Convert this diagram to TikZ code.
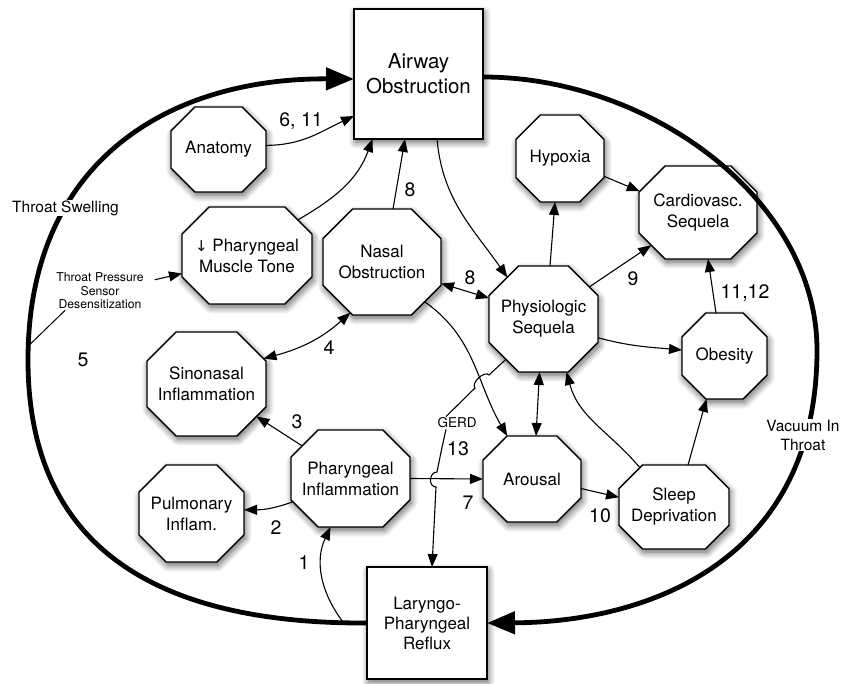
\documentclass[tikz,border=0pt]{standalone}
\usepackage{fontspec}
\setmainfont{TeX Gyre Heros}
\newfontfamily\dejavu{DejaVu Sans}
\usetikzlibrary{arrows.meta,shadows.blur,calc}
\makeatletter
\pgfdeclareshape{octbox}{%
  \inheritsavedanchors[from=rectangle]%
  \inheritanchor[from=rectangle]{center}%
  \inheritanchor[from=rectangle]{north}%
  \inheritanchor[from=rectangle]{south}%
  \inheritanchor[from=rectangle]{east}%
  \inheritanchor[from=rectangle]{west}%
  \inheritanchor[from=rectangle]{text}%
  \inheritanchor[from=rectangle]{mid}%
  \inheritanchor[from=rectangle]{base}%
  \backgroundpath{%
    \southwest \edef\oct@xa{\the\pgf@x}\edef\oct@ya{\the\pgf@y}%
    \northeast \edef\oct@xb{\the\pgf@x}\edef\oct@yb{\the\pgf@y}%
    \pgfutil@tempdima=\oct@xb\relax\advance\pgfutil@tempdima by-\oct@xa\relax
    \pgfutil@tempdimb=\oct@yb\relax\advance\pgfutil@tempdimb by-\oct@ya\relax
    \ifdim\pgfutil@tempdima<\pgfutil@tempdimb \pgfutil@tempdimb=\pgfutil@tempdima\fi
    \pgfutil@tempdimb=0.28\pgfutil@tempdimb
    \pgfutil@tempdima=\oct@xa\relax\advance\pgfutil@tempdima by\pgfutil@tempdimb\edef\oct@xl{\the\pgfutil@tempdima}%
    \pgfutil@tempdima=\oct@xb\relax\advance\pgfutil@tempdima by-\pgfutil@tempdimb\edef\oct@xr{\the\pgfutil@tempdima}%
    \pgfutil@tempdima=\oct@ya\relax\advance\pgfutil@tempdima by\pgfutil@tempdimb\edef\oct@yl{\the\pgfutil@tempdima}%
    \pgfutil@tempdima=\oct@yb\relax\advance\pgfutil@tempdima by-\pgfutil@tempdimb\edef\oct@yu{\the\pgfutil@tempdima}%
    \pgfpathmoveto{\pgfqpoint{\oct@xl}{\oct@ya}}%
    \pgfpathlineto{\pgfqpoint{\oct@xr}{\oct@ya}}%
    \pgfpathlineto{\pgfqpoint{\oct@xb}{\oct@yl}}%
    \pgfpathlineto{\pgfqpoint{\oct@xb}{\oct@yu}}%
    \pgfpathlineto{\pgfqpoint{\oct@xr}{\oct@yb}}%
    \pgfpathlineto{\pgfqpoint{\oct@xl}{\oct@yb}}%
    \pgfpathlineto{\pgfqpoint{\oct@xa}{\oct@yu}}%
    \pgfpathlineto{\pgfqpoint{\oct@xa}{\oct@yl}}%
    \pgfpathclose
  }%
  \anchorborder{%
    \edef\oct@dx{\pgf@sys@tonumber\pgf@x}%
    \edef\oct@dy{\pgf@sys@tonumber\pgf@y}%
    \southwest \edef\oct@xa{\pgf@sys@tonumber\pgf@x}\edef\oct@ya{\pgf@sys@tonumber\pgf@y}%
    \northeast \edef\oct@xb{\pgf@sys@tonumber\pgf@x}\edef\oct@yb{\pgf@sys@tonumber\pgf@y}%
    \pgfmathsetmacro\oct@hx{(\oct@xb-\oct@xa)/2}%
    \pgfmathsetmacro\oct@hy{(\oct@yb-\oct@ya)/2}%
    \pgfmathsetmacro\oct@cx{(\oct@xb+\oct@xa)/2}%
    \pgfmathsetmacro\oct@cy{(\oct@yb+\oct@ya)/2}%
    \pgfmathsetmacro\oct@c{0.56*min(\oct@hx,\oct@hy)}%
    \pgfmathsetmacro\oct@n{abs(\oct@dx)+abs(\oct@dy)}%
    \ifdim\oct@n pt<0.01pt
      \pgf@x=\oct@cx pt\relax\pgf@y=\oct@cy pt\relax
    \else
      \pgfmathsetmacro\oct@ux{abs(\oct@dx)/\oct@n}%
      \pgfmathsetmacro\oct@uy{abs(\oct@dy)/\oct@n}%
      \pgfmathsetmacro\oct@S{\oct@hx+\oct@hy-\oct@c}%
      \let\oct@t\oct@S
      \pgfmathsetmacro\oct@A{\oct@S*\oct@ux}%
      \ifdim\oct@A pt>\oct@hx pt\relax
        \pgfmathsetmacro\oct@t{min(\oct@t,\oct@hx/\oct@ux)}%
      \fi
      \pgfmathsetmacro\oct@B{\oct@S*\oct@uy}%
      \ifdim\oct@B pt>\oct@hy pt\relax
        \pgfmathsetmacro\oct@t{min(\oct@t,\oct@hy/\oct@uy)}%
      \fi
      \pgfmathsetmacro\oct@px{\oct@cx+\oct@t*\oct@dx/\oct@n}%
      \pgfmathsetmacro\oct@py{\oct@cy+\oct@t*\oct@dy/\oct@n}%
      \pgf@x=\oct@px pt\relax\pgf@y=\oct@py pt\relax
    \fi
  }%
}
\makeatother
\tikzset{
  shd/.style={blur shadow={shadow xshift=1.5pt,shadow yshift=-3.5pt,shadow blur radius=6.5pt,shadow blur steps=14,shadow opacity=60}},
  oct/.style={shape=octbox,draw,line width=1.4pt,fill=white,inner sep=0pt,outer sep=0pt,align=center,font=\fontsize{17}{21}\selectfont,shd},
  sq/.style={rectangle,draw,line width=1.4pt,fill=white,inner sep=0pt,outer sep=0pt,align=center,font=\fontsize{17}{20}\selectfont,shd},
  num/.style={font=\fontsize{19.5}{22}\selectfont,inner sep=1pt},
  conn/.style={line width=1.1pt,-{Triangle[length=13pt,width=10pt]}},
  dconn/.style={line width=1.1pt,{Triangle[length=13pt,width=10pt]}-{Triangle[length=13pt,width=10pt]}},
  thickarc/.style={line width=4.8pt,-{Triangle[length=28pt,width=22pt]}},
  lbl/.style={fill=white,inner sep=1pt,align=center}
}
\begin{document}
\begin{tikzpicture}[x=1pt,y=1pt]
\useasboundingbox (0,0) rectangle (841,683);
% boxes
\node[sq,minimum width=129pt,minimum height=130pt,font=\fontsize{20.5}{25}\selectfont] (airway) at (418.5,609) {Airway\\Obstruction};
\node[sq,minimum width=120pt,minimum height=112pt] (lpr) at (427,60) {Laryngo-\\Pharyngeal\\Reflux};
% octagons
\node[oct,minimum width=95pt,minimum height=85pt] (anat) at (218.5,533.5) {Anatomy};
\node[oct,minimum width=130pt,minimum height=97pt] (tone) at (247,427.5) {{\dejavu\fontsize{15}{21}\selectfont ↓} Pharyngeal\\Muscle Tone};
\node[oct,minimum width=118pt,minimum height=106pt] (nasal) at (382,421) {Nasal\\Obstruction};
\node[oct,minimum width=109pt,minimum height=106pt] (phys) at (543.5,364) {Physiologic\\Sequela};
\node[oct,minimum width=88pt,minimum height=87pt] (hyp) at (560,524.5) {Hypoxia};
\node[oct,minimum width=118pt,minimum height=93pt] (cardio) at (698,470.5) {Cardiovasc.\\Sequela};
\node[oct,minimum width=85pt,minimum height=86pt] (obes) at (724.5,327) {Obesity};
\node[oct,minimum width=119pt,minimum height=104pt] (sino) at (206.5,299) {Sinonasal\\Inflammation};
\node[oct,minimum width=119pt,minimum height=97pt] (phinf) at (350.5,204.5) {Pharyngeal\\Inflammation};
\node[oct,minimum width=105pt,minimum height=97pt] (pulm) at (191.5,169.5) {Pulmonary\\Inflam.};
\node[oct,minimum width=98pt,minimum height=86pt] (arou) at (532,204) {Arousal};
\node[oct,minimum width=110pt,minimum height=84pt] (sleep) at (674,176) {Sleep\\Deprivation};
% small labels
\node[inner sep=1pt,align=center,font=\fontsize{12.2}{13.5}\selectfont] (tpsd) at (100,392) {Throat Pressure\\Sensor\\Desensitization};
\node[inner sep=1pt,font=\fontsize{13.5}{15}\selectfont] (gerd) at (457,260) {GERD};
\coordinate (j1) at (343,61);
\coordinate (j2) at (28.3,337);
% thick loop
\draw[thickarc] (lpr.west) .. controls (160,59) and (28,133) .. (28,323) .. controls (28,523) and (170,605) .. ([yshift=-5pt]airway.west);
\draw[thickarc] ([yshift=-3pt]airway.east) .. controls (650,606) and (817,483) .. (817,333) .. controls (817,123) and (650,61) .. (lpr.east);
\node[lbl,anchor=west,font=\fontsize{15.5}{18}\selectfont] (swell) at (11,475) {Throat Swelling};
\node[lbl,font=\fontsize{15.5}{19}\selectfont] (vac) at (803,248) {Vacuum In\\Throat};
% connectors
\draw[line width=1pt] (j2) -- ([xshift=10pt]tpsd.south west);
\draw[conn] ([xshift=10pt,yshift=-8pt]tpsd.north east) -- ([yshift=-18pt]tone.west);
\draw[conn] (anat.5) to[out=0,in=205] ([yshift=-42pt]airway.west);
\draw[conn] (tone.35) to[out=30,in=250] ([xshift=-46pt]airway.south);
\draw[conn] ([xshift=11pt]nasal.north) -- ([xshift=-13.5pt]airway.south);
\draw[conn] ([xshift=18.5pt]airway.south) to[out=-85,in=125] (phys.131);
\draw[dconn] (nasal.-20) -- (phys.159);
\draw[conn] ([xshift=6.5pt]phys.north) -- ([xshift=-5pt]hyp.south);
\draw[conn] (hyp.-22) -- (cardio.160);
\draw[conn] (phys.35) -- (cardio.215);
\draw[conn] ([xshift=-8.5pt]obes.north) -- ([xshift=10pt]cardio.south);
\draw[conn] (phys.-19) to[out=-15,in=175] (obes.172);
\draw[conn] (nasal.-43) to[out=-35,in=120] (arou.120);
\draw[dconn] ([xshift=-4pt]phys.south) -- ([xshift=4pt]arou.north);
\draw[conn] (sleep.131) to[out=130,in=-75] ([xshift=23pt]phys.south);
\draw[conn] ([xshift=14pt]sleep.north) -- ([xshift=-18pt]obes.south);
\draw[conn] (arou.-11) -- (sleep.170);
\draw[conn] (phinf.east) -- (arou.west);
\draw[conn] (phinf.146) -- (sino.-33);
\draw[conn] (phinf.202) to[out=200,in=0] (pulm.4);
\draw[conn] (j1) to[out=127,in=-115] ([xshift=-20pt]phinf.south);
\draw[dconn] (nasal.238) to[out=222,in=15] (sino.24);
% GERD path
\draw[line width=1.1pt] (phys.227) -- (489,308) .. controls (484.5,312.9) and (470.5,299.9) .. (475,295) -- (gerd.150);
\draw[conn] (gerd.210) .. controls (441,231) .. (437,211) .. controls (429,211) and (428,196) .. (436,196) -- ([xshift=5pt]lpr.north);
% numbers
\node[num] (n611) at (301,562) {6, 11};
\node[num] (n8a) at (410,493) {8};
\node[num] (n8b) at (470,405) {8};
\node[num] (n9) at (633,404) {9};
\node[num] (n1112) at (745,390) {11,12};
\node[num] (n10) at (600,167) {10};
\node[num] (n7) at (468,180) {7};
\node[num] (n3) at (297,261) {3};
\node[num] (n2) at (276,155) {2};
\node[num] (n1) at (304,120) {1};
\node[num] (n4) at (329,335) {4};
\node[num] (n5) at (83,323) {5};
\node[num] (n13) at (458,234) {13};
\end{tikzpicture}
\end{document}
